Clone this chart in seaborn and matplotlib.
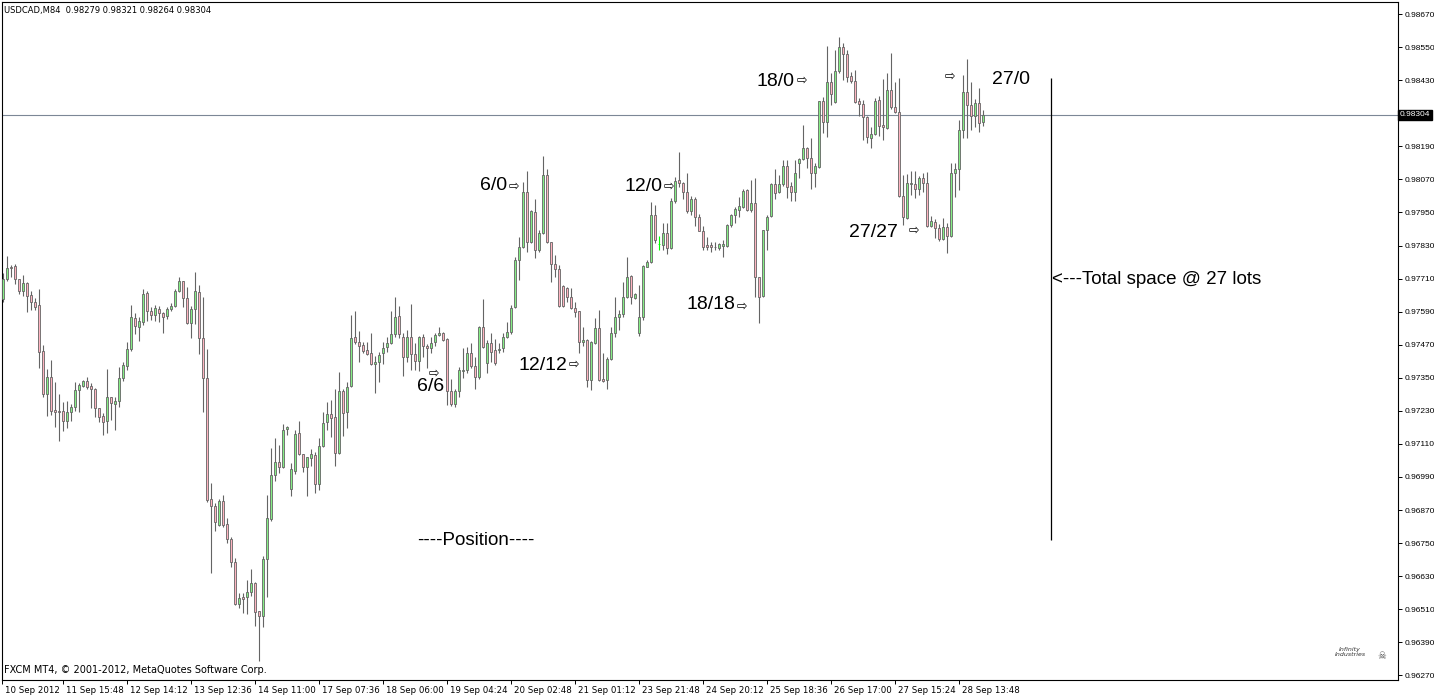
import matplotlib
matplotlib.use("Agg")
import matplotlib.pyplot as plt
import matplotlib.transforms as mtransforms
import numpy as np
import pandas as pd
import seaborn as sns

# ====================== DATA (USDCAD M84) ======================
symbol_info = "USDCAD,M84  0.98279 0.98321 0.98264 0.98304"
footer_info = "FXCM MT4, \u00a9 2001-2012, MetaQuotes Software Corp."
last_price = 0.98304

open_px = [
    0.97636, 0.97708, 0.97752, 0.97755, 0.97708, 0.97665, 0.97694, 0.97650, 0.97625, 0.97614,
    0.97447, 0.97291, 0.97352, 0.97233, 0.97229, 0.97229, 0.97193, 0.97225, 0.97244, 0.97305,
    0.97320, 0.97338, 0.97320, 0.97309, 0.97240, 0.97211, 0.97193, 0.97280, 0.97254, 0.97265,
    0.97349, 0.97392, 0.97454, 0.97567, 0.97534, 0.97552, 0.97657, 0.97592, 0.97578, 0.97599,
    0.97585, 0.97574, 0.97599, 0.97610, 0.97665, 0.97701, 0.97639, 0.97548, 0.97599, 0.97661,
    0.97494, 0.97349, 0.96910, 0.96884, 0.96815, 0.96902, 0.96819, 0.96764, 0.96681, 0.96528,
    0.96554, 0.96554, 0.96572, 0.96605, 0.96503, 0.96485, 0.96692, 0.96837, 0.96997, 0.97044,
    0.97026, 0.97164, 0.96946, 0.97011, 0.97149, 0.97073, 0.97026, 0.97058, 0.97069, 0.96964,
    0.97102, 0.97189, 0.97218, 0.97207, 0.97077, 0.97302, 0.97225, 0.97320, 0.97498, 0.97480,
    0.97469, 0.97451, 0.97440, 0.97400, 0.97407, 0.97440, 0.97461, 0.97476, 0.97509, 0.97574,
    0.97498, 0.97425, 0.97498, 0.97436, 0.97411, 0.97498, 0.97465, 0.97458, 0.97480, 0.97505,
    0.97512, 0.97490, 0.97302, 0.97254, 0.97302, 0.97374, 0.97378, 0.97440, 0.97392, 0.97352,
    0.97534, 0.97403, 0.97476, 0.97451, 0.97451, 0.97458, 0.97498, 0.97516, 0.97607, 0.97777,
    0.97824, 0.98024, 0.97842, 0.97951, 0.97813, 0.97875, 0.98086, 0.97842, 0.97763, 0.97745,
    0.97683, 0.97676, 0.97643, 0.97603, 0.97592, 0.97480, 0.97487, 0.97342, 0.97476, 0.97530,
    0.97345, 0.97342, 0.97418, 0.97512, 0.97570, 0.97581, 0.97643, 0.97719, 0.97639, 0.97512,
    0.97570, 0.97752, 0.97770, 0.97941, 0.97835, 0.97832, 0.97875, 0.97821, 0.97991, 0.98068,
    0.98057, 0.98024, 0.97955, 0.97999, 0.97933, 0.97883, 0.97832, 0.97832, 0.97826, 0.97821,
    0.97828, 0.97828, 0.97904, 0.97941, 0.97959, 0.97970, 0.98031, 0.97959, 0.97984, 0.97715,
    0.97646, 0.97886, 0.97937, 0.98053, 0.98024, 0.98053, 0.98118, 0.98046, 0.98024, 0.98129,
    0.98144, 0.98184, 0.98148, 0.98093, 0.98115, 0.98354, 0.98278, 0.98423, 0.98351, 0.98463,
    0.98550, 0.98525, 0.98445, 0.98427, 0.98354, 0.98343, 0.98296, 0.98220, 0.98235, 0.98358,
    0.98267, 0.98256, 0.98394, 0.98333, 0.98314, 0.98010, 0.97930, 0.98053, 0.98053, 0.98035,
    0.98075, 0.98057, 0.97901, 0.97915, 0.97893, 0.97853, 0.97897, 0.97864, 0.98093, 0.98107,
    0.98249, 0.98387, 0.98340, 0.98300, 0.98347, 0.98279,
]
high_px = [
    0.97730, 0.97792, 0.97759, 0.97763, 0.97710, 0.97723, 0.97697, 0.97665, 0.97639, 0.97672,
    0.97469, 0.97381, 0.97414, 0.97334, 0.97291, 0.97262, 0.97265, 0.97254, 0.97334, 0.97331,
    0.97342, 0.97352, 0.97331, 0.97312, 0.97242, 0.97222, 0.97381, 0.97282, 0.97280, 0.97389,
    0.97407, 0.97480, 0.97614, 0.97585, 0.97570, 0.97672, 0.97665, 0.97607, 0.97614, 0.97610,
    0.97588, 0.97607, 0.97621, 0.97672, 0.97715, 0.97703, 0.97679, 0.97610, 0.97734, 0.97686,
    0.97643, 0.97454, 0.96968, 0.96895, 0.96910, 0.96924, 0.96841, 0.96772, 0.96695, 0.96568,
    0.96568, 0.96616, 0.96656, 0.96607, 0.96505, 0.96703, 0.96924, 0.97095, 0.97131, 0.97106,
    0.97182, 0.97175, 0.97040, 0.97160, 0.97193, 0.97075, 0.97064, 0.97091, 0.97080, 0.97131,
    0.97225, 0.97262, 0.97269, 0.97309, 0.97371, 0.97309, 0.97334, 0.97578, 0.97592, 0.97520,
    0.97480, 0.97480, 0.97512, 0.97429, 0.97443, 0.97480, 0.97498, 0.97592, 0.97643, 0.97610,
    0.97512, 0.97523, 0.97617, 0.97476, 0.97501, 0.97509, 0.97472, 0.97498, 0.97512, 0.97534,
    0.97516, 0.97494, 0.97345, 0.97309, 0.97389, 0.97458, 0.97461, 0.97476, 0.97425, 0.97538,
    0.97636, 0.97487, 0.97512, 0.97490, 0.97476, 0.97512, 0.97552, 0.97614, 0.97788, 0.97861,
    0.98060, 0.98100, 0.97959, 0.97999, 0.97886, 0.98155, 0.98107, 0.97844, 0.97795, 0.97759,
    0.97685, 0.97679, 0.97676, 0.97625, 0.97594, 0.97534, 0.97490, 0.97482, 0.97567, 0.97596,
    0.97440, 0.97425, 0.97534, 0.97643, 0.97596, 0.97697, 0.97788, 0.97723, 0.97657, 0.97686,
    0.97759, 0.97777, 0.97988, 0.97977, 0.97864, 0.97912, 0.97912, 0.98002, 0.98079, 0.98169,
    0.98059, 0.98093, 0.98010, 0.98006, 0.97944, 0.97901, 0.97861, 0.97843, 0.97843, 0.97839,
    0.97850, 0.97908, 0.97944, 0.97970, 0.98006, 0.98035, 0.98035, 0.98068, 0.98075, 0.97717,
    0.97888, 0.97941, 0.98057, 0.98107, 0.98086, 0.98140, 0.98140, 0.98060, 0.98140, 0.98148,
    0.98267, 0.98187, 0.98220, 0.98129, 0.98356, 0.98369, 0.98554, 0.98456, 0.98540, 0.98587,
    0.98565, 0.98540, 0.98460, 0.98467, 0.98365, 0.98358, 0.98300, 0.98260, 0.98365, 0.98372,
    0.98434, 0.98456, 0.98529, 0.98423, 0.98438, 0.98086, 0.98089, 0.98100, 0.98100, 0.98082,
    0.98093, 0.98097, 0.97937, 0.97926, 0.97908, 0.97930, 0.97912, 0.98129, 0.98129, 0.98285,
    0.98449, 0.98507, 0.98423, 0.98362, 0.98402, 0.98321,
]
low_px = [
    0.97624, 0.97701, 0.97715, 0.97690, 0.97654, 0.97646, 0.97588, 0.97596, 0.97596, 0.97385,
    0.97280, 0.97211, 0.97214, 0.97171, 0.97120, 0.97156, 0.97167, 0.97193, 0.97229, 0.97225,
    0.97316, 0.97309, 0.97240, 0.97207, 0.97189, 0.97142, 0.97149, 0.97196, 0.97160, 0.97244,
    0.97338, 0.97378, 0.97447, 0.97509, 0.97483, 0.97541, 0.97556, 0.97559, 0.97556, 0.97552,
    0.97512, 0.97563, 0.97592, 0.97607, 0.97661, 0.97607, 0.97545, 0.97494, 0.97545, 0.97436,
    0.97225, 0.96899, 0.96641, 0.96794, 0.96812, 0.96808, 0.96750, 0.96663, 0.96525, 0.96514,
    0.96496, 0.96492, 0.96557, 0.96449, 0.96322, 0.96445, 0.96554, 0.96830, 0.96975, 0.97004,
    0.97024, 0.97142, 0.96921, 0.97000, 0.97071, 0.97008, 0.96921, 0.97029, 0.96931, 0.96942,
    0.97098, 0.97160, 0.97135, 0.97029, 0.97075, 0.97138, 0.97167, 0.97318, 0.97472, 0.97407,
    0.97440, 0.97432, 0.97396, 0.97294, 0.97334, 0.97400, 0.97443, 0.97472, 0.97498, 0.97494,
    0.97356, 0.97407, 0.97378, 0.97378, 0.97374, 0.97425, 0.97385, 0.97440, 0.97465, 0.97501,
    0.97483, 0.97251, 0.97247, 0.97244, 0.97280, 0.97349, 0.97367, 0.97385, 0.97309, 0.97345,
    0.97458, 0.97367, 0.97407, 0.97396, 0.97440, 0.97443, 0.97494, 0.97509, 0.97603, 0.97705,
    0.97822, 0.97806, 0.97839, 0.97784, 0.97806, 0.97873, 0.97840, 0.97697, 0.97715, 0.97608,
    0.97607, 0.97625, 0.97601, 0.97570, 0.97440, 0.97465, 0.97316, 0.97305, 0.97474, 0.97340,
    0.97336, 0.97309, 0.97414, 0.97498, 0.97523, 0.97570, 0.97639, 0.97617, 0.97636, 0.97501,
    0.97559, 0.97751, 0.97766, 0.97839, 0.97813, 0.97813, 0.97799, 0.97817, 0.97984, 0.98042,
    0.98000, 0.97948, 0.97941, 0.97901, 0.97881, 0.97813, 0.97813, 0.97806, 0.97813, 0.97813,
    0.97788, 0.97824, 0.97897, 0.97912, 0.97933, 0.97966, 0.97957, 0.97951, 0.97643, 0.97548,
    0.97643, 0.97813, 0.97933, 0.98000, 0.98020, 0.98046, 0.98002, 0.97991, 0.97991, 0.98075,
    0.98140, 0.98111, 0.98035, 0.98042, 0.98113, 0.98238, 0.98224, 0.98340, 0.98347, 0.98456,
    0.98431, 0.98423, 0.98420, 0.98347, 0.98300, 0.98213, 0.98202, 0.98184, 0.98231, 0.98227,
    0.98213, 0.98253, 0.98325, 0.98311, 0.98006, 0.97904, 0.97926, 0.98013, 0.98002, 0.98013,
    0.98024, 0.97899, 0.97897, 0.97857, 0.97846, 0.97850, 0.97803, 0.97861, 0.98006, 0.98031,
    0.98220, 0.98220, 0.98249, 0.98260, 0.98242, 0.98264,
]
close_px = [
    0.97708, 0.97748, 0.97748, 0.97708, 0.97665, 0.97694, 0.97646, 0.97625, 0.97607, 0.97443,
    0.97291, 0.97352, 0.97229, 0.97225, 0.97225, 0.97193, 0.97225, 0.97244, 0.97305, 0.97323,
    0.97338, 0.97316, 0.97309, 0.97240, 0.97207, 0.97189, 0.97280, 0.97258, 0.97265, 0.97349,
    0.97396, 0.97454, 0.97570, 0.97538, 0.97556, 0.97654, 0.97592, 0.97578, 0.97603, 0.97585,
    0.97570, 0.97599, 0.97610, 0.97665, 0.97701, 0.97639, 0.97548, 0.97599, 0.97665, 0.97494,
    0.97349, 0.96906, 0.96884, 0.96826, 0.96902, 0.96815, 0.96764, 0.96681, 0.96528, 0.96550,
    0.96547, 0.96572, 0.96605, 0.96499, 0.96485, 0.96692, 0.96841, 0.96997, 0.97044, 0.97026,
    0.97160, 0.97171, 0.97019, 0.97146, 0.97073, 0.97026, 0.97062, 0.97073, 0.96964, 0.97102,
    0.97185, 0.97218, 0.97204, 0.97077, 0.97302, 0.97222, 0.97316, 0.97494, 0.97480, 0.97465,
    0.97447, 0.97436, 0.97400, 0.97407, 0.97432, 0.97458, 0.97476, 0.97509, 0.97570, 0.97509,
    0.97425, 0.97498, 0.97436, 0.97411, 0.97498, 0.97465, 0.97458, 0.97476, 0.97505, 0.97512,
    0.97487, 0.97302, 0.97254, 0.97302, 0.97378, 0.97378, 0.97440, 0.97392, 0.97352, 0.97534,
    0.97461, 0.97476, 0.97443, 0.97403, 0.97454, 0.97498, 0.97516, 0.97603, 0.97777, 0.97824,
    0.98024, 0.97842, 0.97955, 0.97813, 0.97875, 0.98086, 0.97842, 0.97763, 0.97745, 0.97610,
    0.97610, 0.97643, 0.97603, 0.97588, 0.97480, 0.97487, 0.97342, 0.97480, 0.97530, 0.97342,
    0.97338, 0.97418, 0.97512, 0.97570, 0.97581, 0.97643, 0.97715, 0.97643, 0.97654, 0.97570,
    0.97755, 0.97770, 0.97941, 0.97850, 0.97835, 0.97875, 0.97821, 0.97991, 0.98064, 0.98057,
    0.98024, 0.97955, 0.97999, 0.97933, 0.97883, 0.97824, 0.97824, 0.97824, 0.97823, 0.97835,
    0.97835, 0.97904, 0.97941, 0.97962, 0.97973, 0.98028, 0.97959, 0.97984, 0.97715, 0.97643,
    0.97886, 0.97933, 0.98053, 0.98020, 0.98053, 0.98118, 0.98042, 0.98024, 0.98093, 0.98144,
    0.98184, 0.98148, 0.98093, 0.98118, 0.98354, 0.98278, 0.98423, 0.98380, 0.98463, 0.98550,
    0.98525, 0.98441, 0.98427, 0.98351, 0.98343, 0.98296, 0.98224, 0.98235, 0.98354, 0.98264,
    0.98260, 0.98394, 0.98333, 0.98314, 0.98010, 0.97933, 0.98057, 0.98057, 0.98035, 0.98075,
    0.98057, 0.97901, 0.97919, 0.97893, 0.97853, 0.97897, 0.97864, 0.98093, 0.98107, 0.98249,
    0.98387, 0.98340, 0.98300, 0.98347, 0.98275, 0.98304,
]

time_labels = [
    "10 Sep 2012", "11 Sep 15:48", "12 Sep 14:12", "13 Sep 12:36", "14 Sep 11:00",
    "17 Sep 07:36", "18 Sep 06:00", "19 Sep 04:24", "20 Sep 02:48", "21 Sep 01:12",
    "23 Sep 21:48", "24 Sep 20:12", "25 Sep 18:36", "26 Sep 17:00", "27 Sep 15:24",
    "28 Sep 13:48",
]
# bar index at each date label (first one sits on the left edge)
time_label_bars = [-0.3, 15, 31, 47, 63, 79, 95, 111, 127, 143, 159, 175, 191, 207, 223, 239]

price_ticks = [
    0.96270, 0.96390, 0.96510, 0.96630, 0.96750, 0.96870, 0.96990, 0.97110, 0.97230, 0.97350,
    0.97470, 0.97590, 0.97710, 0.97830, 0.97950, 0.98070, 0.98190, 0.98310, 0.98430, 0.98550,
    0.98670,
]
price_ticks = [p for p in price_ticks if abs(p - 0.98310) > 1e-9]  # covered by the bid tag

df = pd.DataFrame({"open": open_px, "high": high_px, "low": low_px, "close": close_px})
df["bar"] = np.arange(len(df))
df["bull"] = df["close"] > df["open"]
df["doji"] = df["close"] == df["open"]

# ====================== STYLE ======================
sns.set_theme(style="white")
plt.rcParams["font.family"] = ["DejaVu Sans"]
plt.rcParams["axes.linewidth"] = 0.8

BULL = "#86ee86"
BEAR = "#ffb4c0"
EDGE = "#646464"
LIME = "#00ff00"
SMALL_FONT = ["Liberation Sans", "DejaVu Sans"]

W, H = 1434, 695
fig = plt.figure(figsize=(W / 100, H / 100), dpi=100)
fig.patch.set_facecolor("white")
ax = fig.add_axes([2 / W, 15 / H, 1396 / W, 678 / H])
ax.set_facecolor("white")

# ====================== CANDLES ======================
wick_colors = np.where(df["doji"], LIME, EDGE)
ax.vlines(df["bar"], df["low"], df["high"], colors=wick_colors, linewidth=0.8, zorder=2)

body_lo = df[["open", "close"]].min(axis=1)
body_hi = df[["open", "close"]].max(axis=1)
body_h = (body_hi - body_lo).clip(lower=0.000004)
ax.bar(df["bar"], body_h, bottom=body_lo, width=0.58,
       color=np.where(df["bull"], BULL, BEAR),
       edgecolor=np.where(df["doji"], LIME, EDGE), linewidth=0.6, zorder=3)

# bid line
ax.axhline(last_price, color="#7c8796", linewidth=0.8, zorder=1)

# ====================== AXES ======================
ax.set_xlim(-0.325, 348.675)
ax.set_ylim(0.96253, 0.98714)
for s in ax.spines.values():
    s.set_color("black")
    s.set_linewidth(0.8)

ax.yaxis.tick_right()
ax.set_yticks(price_ticks, [f"{p:.5f}" for p in price_ticks])
ax.tick_params(axis="y", which="major", right=True, left=False, length=3, width=0.7,
               color="black", labelsize=6, pad=1.5, labelcolor="black")
for lbl in ax.get_yticklabels():
    lbl.set_fontfamily(SMALL_FONT)
ax.set_xticks(time_label_bars, time_labels)
ax.tick_params(axis="x", which="major", bottom=True, length=3, width=0.7,
               color="black", labelsize=6.2, pad=1.5, labelcolor="black")
shift = mtransforms.ScaledTranslation(2.5 / 100, 0, fig.dpi_scale_trans)
for lbl in ax.get_xticklabels():
    lbl.set_horizontalalignment("left")
    lbl.set_transform(lbl.get_transform() + shift)
ax.grid(False)

# current price tag
tag_tr = mtransforms.blended_transform_factory(ax.transAxes, ax.transData)
ax.text(1.0015, last_price, f"{last_price:.5f}", transform=tag_tr, ha="left", va="center",
        color="white", fontsize=6, family=SMALL_FONT, zorder=5, clip_on=False,
        bbox=dict(facecolor="black", edgecolor="black", boxstyle="square,pad=0.2"))

# ====================== ANNOTATIONS ======================
LBL = dict(fontsize=14, family=["Liberation Sans", "DejaVu Sans"], color="black", zorder=6)
ARW = dict(fontsize=9, family=["DejaVu Sans"], color="black", zorder=6, ha="center", va="center")

ax.text(125.9, 0.98049, "6/0", ha="right", va="center", **LBL)
ax.text(127.7, 0.98046, "\u21e8", **ARW)
ax.text(106.7, 0.97320, "6/6", ha="center", va="center", **LBL)
ax.text(107.7, 0.97367, "\u21e8", **ARW)
ax.text(140.9, 0.97396, "12/12", ha="right", va="center", **LBL)
ax.text(142.7, 0.97400, "\u21e8", **ARW)
ax.text(164.7, 0.98046, "12/0", ha="right", va="center", **LBL)
ax.text(166.4, 0.98046, "\u21e8", **ARW)
ax.text(182.9, 0.97617, "18/18", ha="right", va="center", **LBL)
ax.text(184.7, 0.97610, "\u21e8", **ARW)
ax.text(197.9, 0.98427, "18/0", ha="right", va="center", **LBL)
ax.text(199.7, 0.98431, "\u21e8", **ARW)
ax.text(223.7, 0.97879, "27/27", ha="right", va="center", **LBL)
ax.text(227.7, 0.97886, "\u21e8", **ARW)
ax.text(247.2, 0.98431, "27/0", ha="left", va="center", **LBL)
ax.text(236.7, 0.98445, "\u21e8", **ARW)

LBL2 = dict(LBL, fontsize=13.5)
ax.text(103.4, 0.96761, "----Position----", ha="left", va="center", **LBL2)
ax.text(262.2, 0.97705, "<---Total space @ 27 lots", ha="left", va="center", **LBL2)
ax.vlines(261.9, 0.96761, 0.98438, colors="black", linewidth=0.9, zorder=4)

# ====================== HEADER / FOOTER ======================
fig.text(4 / W, 1 - 10 / H, symbol_info, ha="left", va="center", fontsize=6, color="black")
fig.text(4 / W, 1 - 670 / H, footer_info, ha="left", va="center", fontsize=7, color="black")
fig.text(1350 / W, 1 - 652 / H, "Infinity\nIndustries", ha="center", va="center",
         fontsize=4.5, color="#333333", style="italic", linespacing=0.9)
fig.text(1382 / W, 1 - 656 / H, "\u2620", ha="center", va="center", fontsize=7, color="#555555")

fig.savefig("out.png", dpi=100, facecolor="white")
